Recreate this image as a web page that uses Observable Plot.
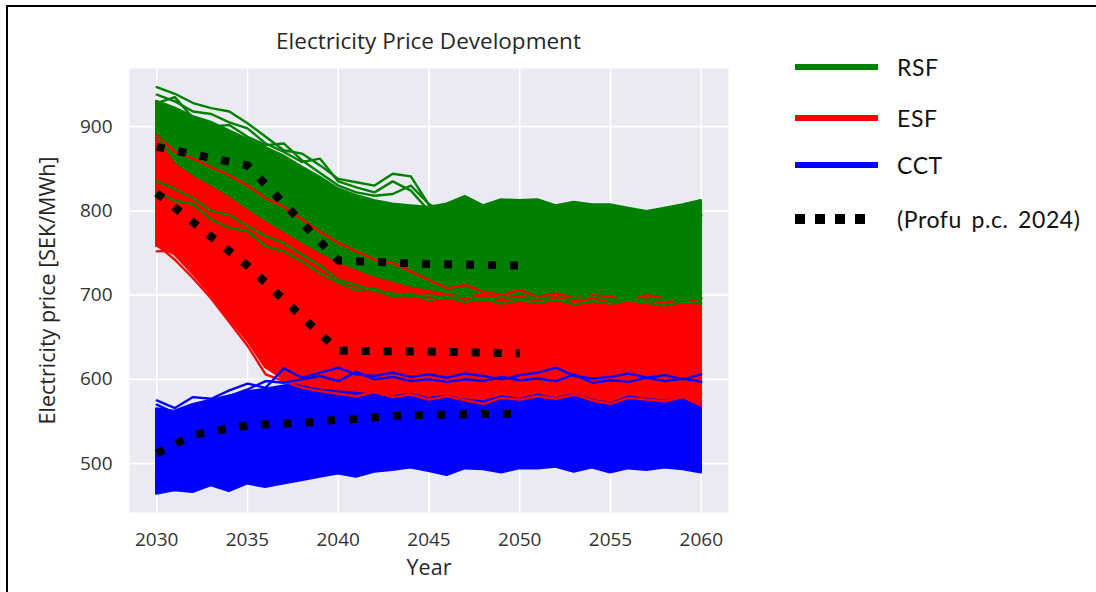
<!DOCTYPE html>
<html>
<head>
<meta charset="utf-8">
<script src="https://cdn.jsdelivr.net/npm/d3@7"></script>
<script src="https://cdn.jsdelivr.net/npm/@observablehq/plot@0.6"></script>
<style>
  html, body { margin: 0; padding: 0; background: #fff; overflow: hidden; }
  #wrap { position: relative; width: 1096px; height: 592px; overflow: hidden; background: #fff; }
  #borderLeft { position: absolute; left: 6px; top: 5px; width: 2px; height: 600px; background: #000; }
  #borderTop { position: absolute; left: 6px; top: 5px; width: 1100px; height: 2px; background: #000; }
  #chart { position: absolute; left: 0; top: 0; }
  #title { position: absolute; left: 129px; width: 599px; top: 28px; text-align: center;
           font-family: "Open Sans", sans-serif; font-size: 22.5px; line-height: 26px; color: #262626; white-space: nowrap; }
  #legend { position: absolute; left: 0; top: 0; }
  g[aria-label="y-axis label"] text, g[aria-label="x-axis label"] text { font-size: 21.5px; fill: #262626; }
</style>
</head>
<body>
<div id="wrap">
  <div id="borderLeft"></div>
  <div id="borderTop"></div>
  <div id="chart"></div>
  <div id="title">Electricity Price Development</div>
  <svg id="legend" width="1096" height="592"></svg>
</div>
<script>
// ---------------- data ----------------
const years = [2030, 2031, 2032, 2033, 2034, 2035, 2036, 2037, 2038, 2039,
               2040, 2041, 2042, 2043, 2044, 2045, 2046, 2047, 2048, 2049,
               2050, 2051, 2052, 2053, 2054, 2055, 2056, 2057, 2058, 2059, 2060];

const xTicks = [2030, 2035, 2040, 2045, 2050, 2055, 2060];
const yTicks = [500, 600, 700, 800, 900];

// RSF ensemble: dense band limits and outlying runs
const rsfUpper = [930, 922, 912, 905, 895, 885, 875, 865, 852, 840,
                  826, 818, 812, 808, 806, 804, 808, 817, 806, 813,
                  812, 813, 806, 810, 807, 807, 803, 799, 803, 807, 812];
const rsfLower = [815, 805, 795, 785, 775, 762, 750, 738, 725, 712,
                  700, 694, 690, 687, 684, 682, 680, 678, 681, 677,
                  679, 676, 680, 675, 678, 674, 677, 675, 679, 674, 676];
const rsfRunsTop = [
  [947, 939, 928, 922, 918, 904, 888, 872, 868, 854, 838, 834, 830, 844, 841, 807, 800, 805, 798, 802, 795, 800, 797, 790, 796, 792, 788, 795, 790, 798, 795],
  [938, 930, 918, 915, 905, 898, 880, 870, 858, 862, 835, 828, 822, 835, 824, 800, 798, 793, 800, 795, 790, 797, 792, 796, 788, 794, 790, 786, 792, 789, 794],
  [928, 935, 910, 900, 902, 888, 878, 880, 860, 845, 830, 822, 818, 820, 830, 808, 795, 800, 796, 790, 798, 792, 788, 794, 790, 785, 792, 788, 784, 790, 788]
];
const rsfRunsLow = [
  [835, 826, 815, 800, 795, 782, 770, 762, 748, 735, 718, 712, 705, 702, 698, 700, 696, 699, 694, 698, 695, 697, 693, 696, 699, 694, 697, 692, 696, 694, 697],
  [822, 812, 808, 790, 780, 776, 758, 752, 740, 726, 715, 706, 708, 698, 702, 694, 698, 692, 696, 690, 694, 691, 695, 689, 693, 690, 694, 691, 688, 692, 690]
];

// ESF ensemble
const esfUpper = [885, 855, 840, 828, 815, 800, 786, 773, 760, 748,
                  737, 728, 720, 714, 708, 704, 700, 697, 700, 696,
                  698, 694, 697, 692, 695, 693, 690, 694, 691, 688, 690];
const esfLower = [758, 748, 725, 700, 672, 646, 614, 600, 594, 590,
                  588, 586, 584, 582, 585, 580, 583, 578, 576, 582,
                  579, 584, 580, 585, 578, 574, 582, 579, 577, 580, 572];
const esfRuns = [
  [890, 870, 862, 852, 842, 830, 815, 805, 790, 775, 762, 752, 742, 738, 728, 718, 708, 712, 704, 700, 706, 698, 702, 696, 700, 698, 694, 700, 696, 692, 696],
  [752, 753, 738, 715, 690, 662, 632, 612, 600, 596, 592, 590, 594, 588, 590, 586, 588, 584, 590, 586, 588, 585, 589, 584, 587, 590, 585, 588, 584, 586, 583],
  [760, 742, 720, 696, 668, 640, 606, 598, 590, 586, 583, 580, 585, 579, 582, 576, 580, 575, 571, 578, 576, 580, 577, 582, 575, 571, 578, 576, 574, 579, 569]
];

// CCT ensemble
const cctUpper = [565, 562, 570, 575, 580, 585, 588, 592, 596, 598,
                  600, 600, 602, 600, 603, 601, 600, 603, 601, 598,
                  602, 604, 600, 603, 598, 601, 603, 600, 602, 598, 600];
const cctLower = [464, 468, 466, 474, 467, 476, 472, 476, 480, 484,
                  488, 484, 490, 492, 495, 491, 486, 494, 493, 489,
                  494, 494, 496, 490, 495, 489, 494, 492, 495, 493, 489];
const cctRuns = [
  [575, 566, 579, 577, 587, 595, 590, 613, 602, 608, 614, 606, 604, 608, 603, 606, 602, 607, 604, 600, 605, 608, 614, 604, 601, 603, 607, 602, 605, 600, 606],
  [570, 560, 568, 572, 580, 588, 598, 596, 600, 604, 598, 609, 600, 603, 598, 600, 597, 600, 598, 603, 599, 601, 598, 606, 596, 599, 597, 602, 598, 601, 597]
];

// Profu (p.c. 2024) reference paths
const profuYears = [2030, 2035, 2040, 2045, 2050];
const profuRSF = [876, 854, 741, 737, 735];
const profuESF = [821, 735, 634, 633, 631];
const profuCCTYears = [2030, 2031, 2032, 2033, 2034, 2035, 2036, 2037, 2038, 2039, 2040,
                       2041, 2042, 2043, 2044, 2045, 2046, 2047, 2048, 2049, 2050];
const profuCCT = [512, 523, 534, 538, 542, 545, 546.5, 547.5, 548.5, 550, 552,
                  553, 555, 556.5, 557.5, 558, 558, 558.5, 559, 559, 559];

const legendLabels = ["RSF", "ESF", "CCT", "(Profu p.c. 2024)"];
const legendColors = ["#008000", "#ff0000", "#0000ff", "#000000"];

// ---------------- helpers ----------------
const GREEN = "#008000", RED = "#ff0000", BLUE = "#0000ff";
const band = (lo, hi) => years.map((yr, i) => ({year: yr, lo: lo[i], hi: hi[i]}));
const runs = (list, tag) => list.flatMap((r, k) => years.map((yr, i) => ({year: yr, v: r[i], run: tag + k})));
const series = (xs, vs) => xs.map((yr, i) => ({year: yr, v: vs[i]}));

const lineOpts = (color) => ({x: "year", y: "v", z: "run", stroke: color, strokeWidth: 2.4, strokeLinejoin: "round"});
const areaOpts = (color) => ({x: "year", y1: "lo", y2: "hi", fill: color, stroke: color, strokeWidth: 2.4, strokeLinejoin: "round"});
const dotted = {x: "year", y: "v", stroke: "#000", strokeWidth: 8, strokeDasharray: "8,14", strokeLinecap: "butt"};

const chart = Plot.plot({
  width: 1096,
  height: 592,
  marginLeft: 129,
  marginRight: 368,
  marginTop: 68,
  marginBottom: 80,
  style: {fontFamily: "'Open Sans', sans-serif", fontSize: "19px", color: "#333", background: "transparent"},
  x: {domain: [2028.5, 2061.5], ticks: xTicks, tickFormat: d => String(d), tickSize: 0, tickPadding: 20,
      label: "Year", labelAnchor: "center", labelOffset: 62, labelArrow: "none"},
  y: {domain: [442, 969], ticks: yTicks, tickSize: 0, tickPadding: 17,
      label: "Electricity price [SEK/MWh]", labelAnchor: "center", labelOffset: 90, labelArrow: "none"},
  marks: [
    Plot.frame({fill: "#eaeaf2", stroke: null}),
    Plot.gridX(xTicks, {stroke: "#fff", strokeOpacity: 1, strokeWidth: 1.6}),
    Plot.gridY(yTicks, {stroke: "#fff", strokeOpacity: 1, strokeWidth: 1.6}),
    Plot.areaY(band(rsfLower, rsfUpper), areaOpts(GREEN)),
    Plot.line(runs(rsfRunsTop, "g"), lineOpts(GREEN)),
    Plot.areaY(band(cctLower, cctUpper), areaOpts(BLUE)),
    Plot.areaY(band(esfLower, esfUpper), areaOpts(RED)),
    Plot.line(runs(esfRuns, "r"), lineOpts(RED)),
    Plot.line(runs(cctRuns, "b"), lineOpts(BLUE)),
    Plot.line(runs(rsfRunsLow, "gl"), lineOpts(GREEN)),
    Plot.line(series(profuYears, profuRSF), dotted),
    Plot.line(series(profuYears, profuESF), dotted),
    Plot.line(series(profuCCTYears, profuCCT), dotted)
  ]
});
document.getElementById("chart").appendChild(chart);

// ---------------- legend ----------------
const legendRowY = [67, 118, 165, 219];
const ns = "http://www.w3.org/2000/svg";
const leg = document.getElementById("legend");
legendLabels.forEach((lab, i) => {
  const ln = document.createElementNS(ns, "line");
  ln.setAttribute("x1", 795);
  ln.setAttribute("x2", i === 3 ? 866 : 878);
  ln.setAttribute("y1", legendRowY[i]);
  ln.setAttribute("y2", legendRowY[i]);
  ln.setAttribute("stroke", legendColors[i]);
  ln.setAttribute("stroke-width", i === 3 ? 10 : 6);
  if (i === 3) ln.setAttribute("stroke-dasharray", "10,10");
  leg.appendChild(ln);
  const tx = document.createElementNS(ns, "text");
  tx.setAttribute("x", 897);
  tx.setAttribute("y", legendRowY[i] + 9);
  tx.setAttribute("font-family", "Lato, sans-serif");
  tx.setAttribute("font-size", 23);
  tx.setAttribute("word-spacing", 3);
  tx.setAttribute("letter-spacing", 0.6);
  tx.setAttribute("fill", "#111");
  tx.textContent = lab;
  leg.appendChild(tx);
});
</script>
</body>
</html>
